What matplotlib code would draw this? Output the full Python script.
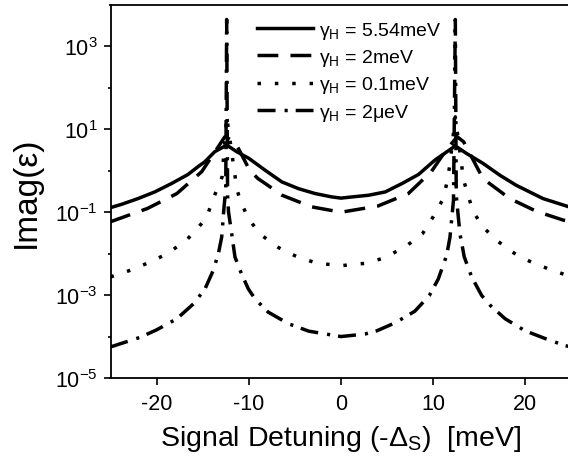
import matplotlib
matplotlib.use("Agg")
import matplotlib.pyplot as plt

plt.rcParams['font.family'] = ['Liberation Sans', 'DejaVu Sans']
plt.rcParams['mathtext.default'] = 'regular'

# ---- data ----
solid_x = [-25, -23.8, -22, -20.2, -18.4, -16.6, -15.5, -14.75, -13.7, -12.4, -11.3, -10, -8.2, -6.4,
           -4.6, -2.8, -1.0, 0, 1.2, 3, 4.8, 6.6, 8.4, 10.2, 12.4, 13.6, 15.4, 17.25, 19, 21.9, 25]
solid_y = [0.129, 0.155, 0.214, 0.309, 0.490, 0.813, 1.26, 1.66, 2.88, 4.17, 2.88, 2.0, 1.02, 0.537,
           0.37, 0.282, 0.234, 0.219, 0.234, 0.257, 0.309, 0.490, 0.813, 1.82, 3.98, 2.63, 1.51, 0.776,
           0.447, 0.214, 0.129]

dashed_x = [-25, -21, -17.8, -15.1, -13.7, -12.6, -11.5, -9.9, -9, -8.2, -6.4, -3.2, 0, 4, 7.3, 9.8,
            11.4, 12.6, 13.3, 15.4, 18.3, 21.2, 24.1, 25]
dashed_y = [0.0589, 0.123, 0.282, 0.955, 2.82, 6.61, 5.01, 1.02, 0.646, 0.490, 0.257, 0.135, 0.100, 0.141,
            0.282, 0.955, 3.16, 6.61, 5.01, 0.646, 0.214, 0.105, 0.0646, 0.0589]

dotted_x = [-25, -22.7, -21, -19.2, -18.2, -16.7, -15.5, -14.6, -13.85, -12.9, -12.4, -11.3, -10.95, -10.05,
            -8.8, -7.16, -6.26, -4.5, -2.57, 0, 2.8, 4.7, 6.4, 7.3, 8.86, 10.0, 11.1, 11.46, 11.8, 12.4,
            13.3, 14.0, 14.35, 15.4, 16.9, 18.3, 19.3, 21.0, 22.8, 25]
dotted_y = [2.75e-3, 4.07e-3, 5.89e-3, 9.12e-3, 1.26e-2, 2.19e-2, 4.27e-2, 7.24e-2, 0.214, 0.708, 20, 0.372,
            0.195, 7.08e-2, 3.02e-2, 1.58e-2, 1.20e-2, 7.94e-3, 5.89e-3, 5.13e-3, 5.89e-3, 7.94e-3, 1.26e-2,
            1.66e-2, 3.09e-2, 7.76e-2, 0.214, 0.490, 1.35, 20, 0.589, 0.178, 0.102, 4.37e-2, 2.09e-2, 1.20e-2,
            8.71e-3, 5.75e-3, 4.07e-3, 2.75e-3]

dashdot_x = [-25, -21.8, -20, -17.8, -16, -14.75, -13.85, -13.3, -12.94, -12.7, -12.5, -12.4, -12.3, -12.2,
             -11.9, -11.5, -10.8, -10.05, -9.33, -7.9, -5.7, -3.5, 0, 2.6, 3.9, 5.86, 8, 9.58, 10.55, 11.46,
             11.82, 12.2, 12.4, 12.5, 12.9, 13.37, 14.17, 15.26, 16.2, 17.8, 19.96, 22.05, 24.3, 25]
dashdot_y = [5.62e-5, 9.55e-5, 1.45e-4, 2.69e-4, 6.17e-4, 1.41e-3, 3.98e-3, 1.0e-2, 2.51e-2, 0.123, 0.372,
             4470, 0.251, 0.102, 3.55e-2, 8.32e-3, 3.31e-3, 1.41e-3, 8.13e-4, 3.89e-4, 2.04e-4, 1.35e-4,
             1.0e-4, 1.15e-4, 1.38e-4, 2.14e-4, 4.07e-4, 9.77e-4, 2.45e-3, 9.12e-3, 2.51e-2, 0.195, 4470,
             0.251, 3.02e-2, 8.32e-3, 2.75e-3, 9.77e-4, 5.62e-4, 2.69e-4, 1.38e-4, 9.12e-5, 6.03e-5, 5.62e-5]

labels = [r"γ$_{H}$ = 5.54meV", r"γ$_{H}$ = 2meV", r"γ$_{H}$ = 0.1meV", r"γ$_{H}$ = 2μeV"]
x_ticks = [-20, -10, 0, 10, 20]
y_ticks = [1e-5, 1e-3, 1e-1, 1e1, 1e3]
y_ticklabels = [r"10$^{-5}$", r"10$^{-3}$", r"10$^{-1}$", r"10$^{1}$", r"10$^{3}$"]
y_minor = [1e-4, 1e-2, 1e0, 1e2]

# ---- figure ----
fig = plt.figure(figsize=(5.68, 4.64), dpi=100)
ax = fig.add_axes([110.5 / 568, 85 / 464, 461 / 568, 373 / 464])

lw = 2.5
ax.plot(solid_x, solid_y, color='black', lw=lw, linestyle='-', label=labels[0])
ax.plot(dashed_x, dashed_y, color='black', lw=lw, linestyle=(0, (6, 3.5)), label=labels[1])
ax.plot(dotted_x, dotted_y, color='black', lw=lw, linestyle=(0, (1, 4)), label=labels[2])
ax.plot(dashdot_x, dashdot_y, color='black', lw=lw, linestyle=(0, (5.2, 2.6, 0.9, 2.3)), label=labels[3])

ax.set_yscale('log')
ax.set_xlim(-25, 25)
ax.set_ylim(1e-5, 1e4)
ax.set_xticks(x_ticks)
ax.set_xticklabels([str(t) for t in x_ticks])
ax.set_yticks(y_ticks)
ax.set_yticklabels(y_ticklabels)
ax.set_yticks(y_minor, minor=True)
ax.set_yticklabels([], minor=True)
ax.tick_params(axis='both', which='major', direction='out', length=5, width=1.2, labelsize=15.5)
ax.tick_params(axis='x', which='major', pad=6)
ax.tick_params(axis='y', which='major', pad=4)
ax.tick_params(axis='y', which='minor', direction='out', length=2.5, width=1.2)
ax.tick_params(axis='x', which='minor', bottom=False)
for s in ['left', 'bottom', 'top', 'right']:
    ax.spines[s].set_linewidth(1.3)

ax.set_xlabel(r"Signal Detuning (-Δ$_{S}$)  [meV]", fontsize=20.5, labelpad=6)
ax.set_ylabel("Imag(ε)", fontsize=24, labelpad=10)

leg = ax.legend(loc='upper left', bbox_to_anchor=(257 / 568, 1 - 21 / 464), bbox_transform=fig.transFigure,
                frameon=False, fontsize=14, handlelength=2.9, handletextpad=0.3, labelspacing=0.32,
                borderpad=0, borderaxespad=0)

fig.savefig("out.png", dpi=100)
